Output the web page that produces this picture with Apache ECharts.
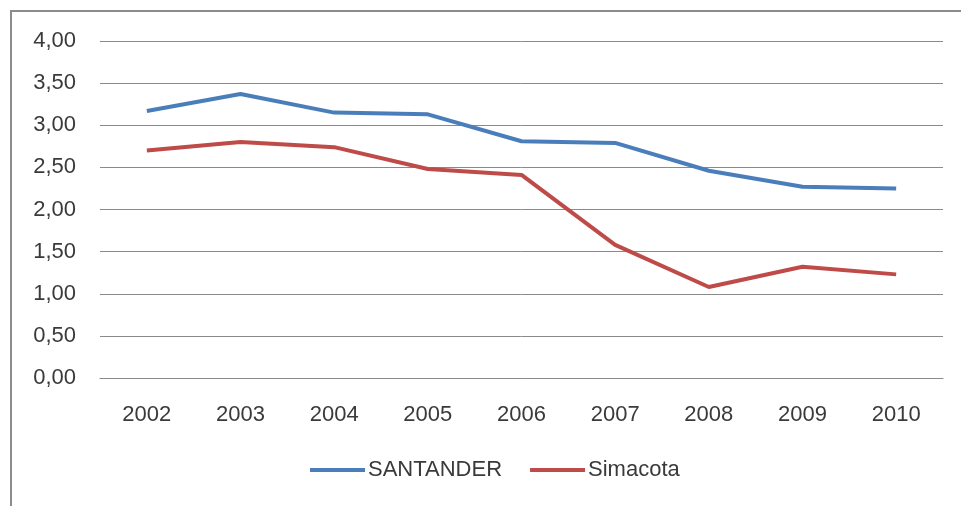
<!DOCTYPE html>
<html>
<head>
<meta charset="utf-8">
<script src="https://cdn.jsdelivr.net/npm/echarts@6/dist/echarts.min.js"></script>
<style>
  html, body { margin: 0; padding: 0; background: #fff; }
  #chart { width: 961px; height: 506px; }
</style>
</head>
<body>
<div id="chart"></div>
<script>
// Years on the category axis
const years = ['2002', '2003', '2004', '2005', '2006', '2007', '2008', '2009', '2010'];

// Series values
const santander = [3.17, 3.37, 3.15, 3.13, 2.81, 2.79, 2.46, 2.27, 2.25];
const simacota  = [2.70, 2.80, 2.74, 2.48, 2.41, 1.58, 1.08, 1.32, 1.23];

// Value axis ticks
const yMin = 0, yMax = 4, yStep = 0.5;

const textColor = '#3a3a3a';
const gridColor = '#8a8a8a';
const font = 'Liberation Sans';

const chart = echarts.init(document.getElementById('chart'), null, { renderer: 'canvas' });

chart.setOption({
  backgroundColor: '#ffffff',
  animation: false,
  graphic: [{
    type: 'rect',
    shape: { x: 11, y: 11, width: 1000, height: 600 },
    style: { fill: 'none', stroke: '#8c8c8c', lineWidth: 2 },
    silent: true
  }],
  grid: { left: 100, right: 18, top: 41, bottom: 128, containLabel: false },
  legend: {
    left: 305,
    top: 454,
    itemWidth: 55,
    itemHeight: 4,
    itemGap: 28,
    icon: 'rect',
    textStyle: { color: textColor, fontFamily: font, fontSize: 22, padding: [0, 0, 0, -2] },
    data: ['SANTANDER', 'Simacota']
  },
  xAxis: {
    type: 'category',
    data: years,
    boundaryGap: true,
    axisLine: { show: true, lineStyle: { color: gridColor, width: 1 } },
    axisTick: { show: false },
    axisLabel: { color: textColor, fontFamily: font, fontSize: 22, margin: 26 }
  },
  yAxis: {
    type: 'value',
    min: yMin,
    max: yMax,
    interval: yStep,
    axisLine: { show: false },
    axisTick: { show: false },
    splitLine: { show: true, lineStyle: { color: gridColor, width: 1 } },
    axisLabel: {
      color: textColor, fontFamily: font, fontSize: 22, margin: 24,
      formatter: v => v.toFixed(2).replace('.', ',')
    }
  },
  series: [
    {
      name: 'SANTANDER',
      type: 'line',
      data: santander,
      symbol: 'none',
      lineStyle: { color: '#4a7ebb', width: 4 },
      itemStyle: { color: '#4a7ebb' }
    },
    {
      name: 'Simacota',
      type: 'line',
      data: simacota,
      symbol: 'none',
      lineStyle: { color: '#be4b48', width: 4 },
      itemStyle: { color: '#be4b48' }
    }
  ]
});
</script>
</body>
</html>
